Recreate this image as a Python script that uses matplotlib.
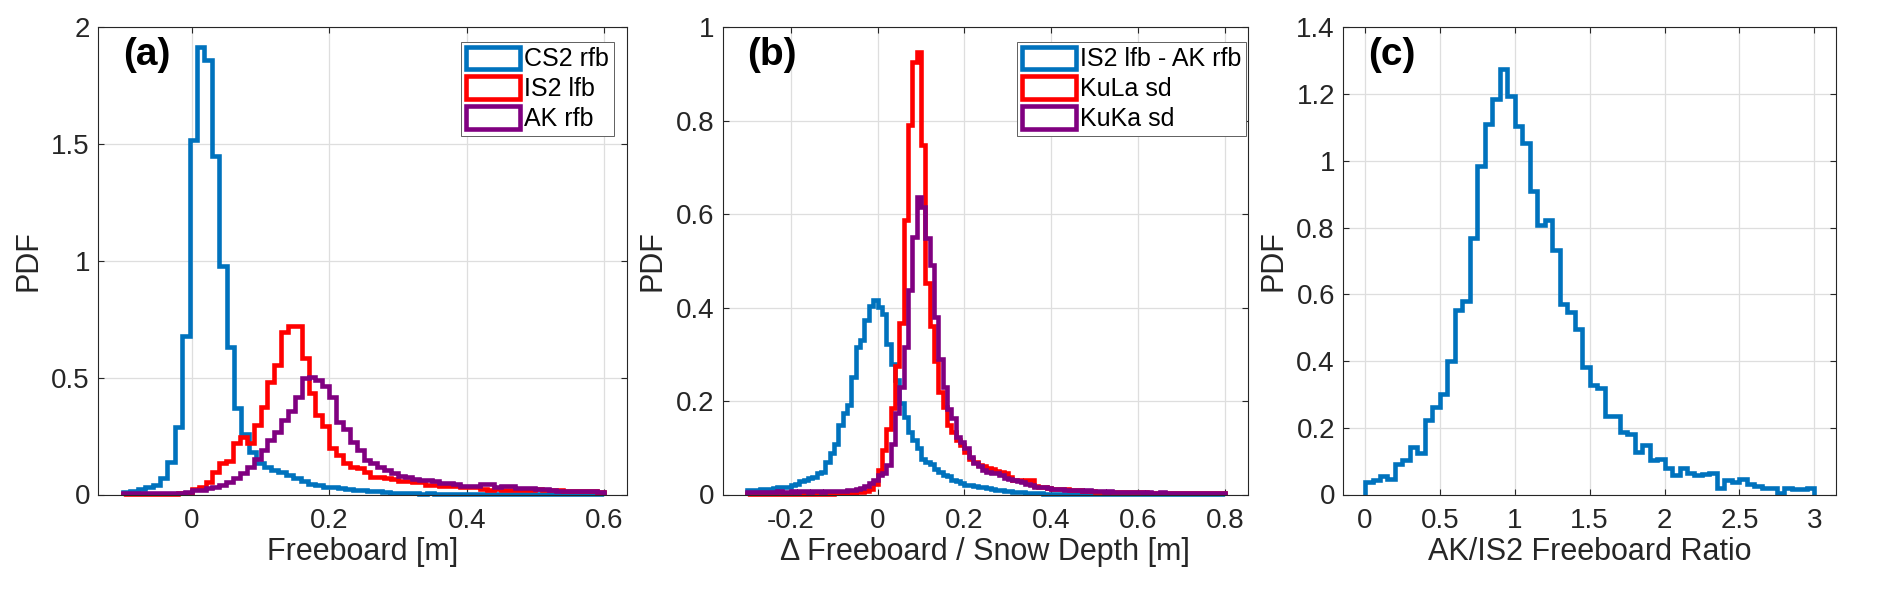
import numpy as np
import matplotlib
matplotlib.use("Agg")
import matplotlib.pyplot as plt
from matplotlib.patches import Patch
from matplotlib.ticker import FuncFormatter

# ---------------- data ----------------
# Panel (a): freeboard PDFs
a_range = (-0.1, 0.6)
cs2_rfb = [0.012, 0.015, 0.022, 0.032, 0.040, 0.069, 0.14, 0.29, 0.679, 1.518,
           1.915, 1.86, 1.447, 0.977, 0.632, 0.370, 0.261, 0.183, 0.133, 0.119,
           0.104, 0.097, 0.083, 0.069, 0.056, 0.047, 0.040, 0.033, 0.030, 0.026,
           0.024, 0.021, 0.019, 0.016, 0.014, 0.012, 0.008, 0.007, 0.006,
           0.005, 0.004, 0.005, 0.004, 0.003, 0.004, 0.003, 0.004, 0.004, 0.003,
           0.004, 0.003, 0.003, 0.004, 0.003, 0.003, 0.002, 0.003, 0.003, 0.002,
           0.003, 0.002, 0.002, 0.003, 0.002, 0.002]
is2_lfb = [0.002, 0.002, 0.002, 0.002, 0.003, 0.003, 0.004, 0.004, 0.005, 0.006,
           0.022, 0.032, 0.054, 0.097, 0.133, 0.142, 0.219, 0.247, 0.221, 0.297,
           0.376, 0.483, 0.554, 0.695, 0.722, 0.720, 0.583, 0.433, 0.342, 0.295,
           0.197, 0.170, 0.136, 0.119, 0.113, 0.097, 0.076, 0.074, 0.072, 0.067,
           0.058, 0.056, 0.055, 0.054, 0.042, 0.040, 0.036, 0.035, 0.037, 0.034,
           0.031, 0.030, 0.022, 0.021, 0.022, 0.020, 0.019, 0.021, 0.019, 0.020,
           0.022, 0.021, 0.020, 0.021, 0.015, 0.014, 0.013, 0.014, 0.013, 0.012]
ak_rfb = [0.005, 0.005, 0.006, 0.006, 0.006, 0.007, 0.007, 0.007, 0.008, 0.012,
          0.020, 0.021, 0.028, 0.032, 0.040, 0.054, 0.069, 0.093, 0.119, 0.154,
          0.190, 0.233, 0.269, 0.319, 0.359, 0.419, 0.497, 0.505, 0.490, 0.465,
          0.419, 0.310, 0.280, 0.226, 0.190, 0.147, 0.133, 0.119, 0.104, 0.090,
          0.080, 0.074, 0.067, 0.064, 0.060, 0.058, 0.050, 0.048, 0.046, 0.038,
          0.036, 0.035, 0.046, 0.045, 0.031, 0.035, 0.036, 0.028, 0.027, 0.026,
          0.024, 0.024, 0.018, 0.017, 0.017, 0.016, 0.014, 0.013, 0.013, 0.012]

# Panel (b): freeboard difference / snow depth PDFs
b_range = (-0.3, 0.8)
diff_fb = [0.009, 0.010, 0.010, 0.011, 0.011, 0.012, 0.013, 0.015, 0.016, 0.017,
           0.021, 0.023, 0.029, 0.031, 0.036, 0.038, 0.046, 0.049,
           0.070, 0.088, 0.109, 0.149, 0.174, 0.191, 0.252, 0.316, 0.330, 0.373,
           0.403, 0.416,
           0.402, 0.387, 0.323, 0.280, 0.245, 0.195, 0.166, 0.134, 0.117, 0.099,
           0.075, 0.070, 0.065, 0.055, 0.049, 0.042, 0.040, 0.031, 0.028, 0.024,
           0.021, 0.020, 0.018, 0.017, 0.015, 0.013, 0.011, 0.010,
           0.009, 0.008, 0.007, 0.006, 0.006, 0.005, 0.004, 0.004, 0.003, 0.003,
           0.002, 0.002, 0.002, 0.002, 0.002, 0.002, 0.002, 0.002, 0.002, 0.002,
           0.002, 0.002,
           0.001, 0.001, 0.001, 0.001, 0.001, 0.001, 0.001, 0.001, 0.001, 0.001,
           0.001, 0.001, 0.001, 0.001, 0.001, 0.001, 0.001, 0.001, 0.001, 0.001,
           0.001, 0.001, 0.001, 0.001, 0.001, 0.001, 0.001, 0.001, 0.001, 0.001]
kula_sd = [0.002, 0.002, 0.002, 0.002, 0.002, 0.002, 0.002, 0.002, 0.002, 0.002,
           0.002, 0.002, 0.002, 0.002, 0.002, 0.002, 0.002, 0.002, 0.002, 0.002,
           0.003, 0.003, 0.003, 0.003, 0.003, 0.005, 0.006, 0.008, 0.012, 0.022,
           0.052, 0.095, 0.140, 0.186, 0.274, 0.368, 0.588, 0.790, 0.926, 0.947,
           0.748, 0.452, 0.360, 0.285, 0.220, 0.188, 0.149, 0.134, 0.117, 0.106,
           0.092, 0.077, 0.070, 0.063, 0.060, 0.056, 0.055, 0.050, 0.048, 0.045,
           0.037, 0.032, 0.030, 0.029, 0.032, 0.031, 0.018, 0.016, 0.015, 0.013,
           0.012, 0.012, 0.011, 0.011, 0.010, 0.009, 0.009, 0.008, 0.008, 0.007,
           0.006, 0.006, 0.006, 0.006, 0.006, 0.006, 0.006, 0.006,
           0.005, 0.005, 0.005, 0.005,
           0.003, 0.003, 0.003, 0.003, 0.003, 0.003, 0.003, 0.003, 0.003, 0.003,
           0.003, 0.003, 0.003, 0.003, 0.003, 0.003, 0.003, 0.003]
kuka_sd = [0.005, 0.006, 0.005, 0.006, 0.006, 0.005, 0.006, 0.007, 0.006, 0.006,
           0.007, 0.006, 0.007, 0.007, 0.006, 0.007, 0.007, 0.006, 0.007, 0.007,
           0.008, 0.008, 0.008, 0.009, 0.009, 0.011, 0.014, 0.018, 0.025, 0.031,
           0.042, 0.047, 0.063, 0.109, 0.174, 0.231, 0.316, 0.437, 0.551, 0.636,
           0.616, 0.550, 0.491, 0.380, 0.290, 0.231, 0.184, 0.163, 0.124, 0.113,
           0.099, 0.081, 0.067, 0.060, 0.052, 0.049, 0.046, 0.045, 0.042, 0.036,
           0.034, 0.031, 0.028, 0.026, 0.022, 0.020, 0.017, 0.016, 0.015, 0.013,
           0.012, 0.011, 0.011, 0.010, 0.010, 0.009, 0.009, 0.008, 0.009, 0.008,
           0.007, 0.007, 0.006, 0.007, 0.006, 0.006, 0.006, 0.005, 0.006, 0.005,
           0.005, 0.004, 0.005, 0.004, 0.004, 0.005, 0.004, 0.004, 0.004, 0.004,
           0.004, 0.003, 0.004, 0.004, 0.003, 0.004, 0.003, 0.003, 0.003, 0.003]

# Panel (c): AK/IS2 freeboard ratio PDF
c_range = (0.0, 3.0)
ratio = [0.037, 0.044, 0.055, 0.045, 0.090, 0.103, 0.143, 0.123, 0.223, 0.261,
         0.302, 0.400, 0.552, 0.579, 0.769, 0.984, 1.110, 1.185, 1.275, 1.195,
         1.105, 1.052, 0.909, 0.807, 0.822, 0.734, 0.572, 0.546, 0.496, 0.382,
         0.327, 0.318, 0.236, 0.236, 0.188, 0.180, 0.128, 0.148, 0.103, 0.106,
         0.080, 0.059, 0.079, 0.065, 0.057, 0.060, 0.064, 0.018, 0.042, 0.037,
         0.047, 0.032, 0.025, 0.020, 0.020, 0.004, 0.019, 0.015, 0.017, 0.020]

labels_a = ["CS2 rfb", "IS2 lfb", "AK rfb"]
labels_b = ["IS2 lfb - AK rfb", "KuLa sd", "KuKa sd"]
xlabels = ["Freeboard [m]", "\u0394 Freeboard / Snow Depth [m]", "AK/IS2 Freeboard Ratio"]
panel_tags = ["(a)", "(b)", "(c)"]

# ---------------- style ----------------
BLUE, RED, PURPLE = "#0072BD", "#FF0000", "#800080"
AXC = "#262626"
plt.rcParams["font.family"] = ["Liberation Sans", "DejaVu Sans"]
plt.rcParams["axes.unicode_minus"] = False

W, H = 1892, 594
fig = plt.figure(figsize=(W / 100, H / 100), dpi=100)

def frac(l, r, t=27.3, b=494.5):
    return [l / W, (H - b) / H, (r - l) / W, (b - t) / H]

ax_a = fig.add_axes(frac(98.3, 626.5))
ax_b = fig.add_axes(frac(722.7, 1248.0))
ax_c = fig.add_axes(frac(1343.3, 1835.7))

fmt = FuncFormatter(lambda v, p: f"{round(v, 6) + 0.0:g}")

def style(ax, xlim, ylim, xticks, yticks, xlabel, tag):
    ax.set_xlim(*xlim)
    ax.set_ylim(*ylim)
    ax.set_xticks(xticks)
    ax.set_yticks(yticks)
    ax.xaxis.set_major_formatter(fmt)
    ax.yaxis.set_major_formatter(fmt)
    ax.grid(True, color="#dedede", linewidth=0.9)
    ax.set_axisbelow(True)
    for s in ax.spines.values():
        s.set_color(AXC)
        s.set_linewidth(0.8)
    ax.tick_params(axis="both", direction="in", length=4, width=0.8,
                   colors=AXC, labelsize=20, top=True, right=True)
    ax.tick_params(axis="x", pad=10)
    ax.tick_params(axis="y", pad=6)
    ax.set_xlabel(xlabel, fontsize=22, color=AXC, labelpad=2)
    ax.set_ylabel("PDF", fontsize=22, color=AXC, labelpad=6)
    ax.annotate(tag, xy=(0, 1), xycoords="axes fraction",
                xytext=(17.8, -19.9), textcoords="offset points",
                ha="left", va="center", fontsize=28, fontweight="bold",
                color="black")

def draw(ax, vals, rng, color):
    edges = np.linspace(rng[0], rng[1], len(vals) + 1)
    ax.stairs(vals, edges, baseline=0, color=color, linewidth=3.3,
              clip_on=False)

def legend(ax, labels, colors, right_px, top_px):
    handles = [Patch(facecolor="white", edgecolor=c, linewidth=3.3) for c in colors]
    leg = ax.legend(handles, labels, loc="upper right",
                    bbox_to_anchor=(right_px / W, 1 - top_px / H),
                    bbox_transform=fig.transFigure, borderaxespad=0,
                    fontsize=18, handlelength=2.16, handleheight=1.0,
                    handletextpad=0.15, labelspacing=0.2, borderpad=0.2,
                    fancybox=False, framealpha=1, edgecolor="#606060")
    leg.get_frame().set_linewidth(0.7)

# Panel (a)
for vals, c in zip([cs2_rfb, is2_lfb, ak_rfb], [BLUE, RED, PURPLE]):
    draw(ax_a, vals, a_range, c)
style(ax_a, (-0.136, 0.6325), (0, 2), [0, 0.2, 0.4, 0.6],
      [0, 0.5, 1, 1.5, 2], xlabels[0], panel_tags[0])
legend(ax_a, labels_a, [BLUE, RED, PURPLE], 614, 41.7)

# Panel (b)
for vals, c in zip([diff_fb, kula_sd, kuka_sd], [BLUE, RED, PURPLE]):
    draw(ax_b, vals, b_range, c)
style(ax_b, (-0.356, 0.852), (0, 1), [-0.2, 0, 0.2, 0.4, 0.6, 0.8],
      [0, 0.2, 0.4, 0.6, 0.8, 1], xlabels[1], panel_tags[1])
legend(ax_b, labels_b, [BLUE, RED, PURPLE], 1246, 41.7)

# Panel (c)
draw(ax_c, ratio, c_range, BLUE)
style(ax_c, (-0.145, 3.143), (0, 1.4), [0, 0.5, 1, 1.5, 2, 2.5, 3],
      [0, 0.2, 0.4, 0.6, 0.8, 1, 1.2, 1.4], xlabels[2], panel_tags[2])

fig.savefig("out.png", dpi=100)
